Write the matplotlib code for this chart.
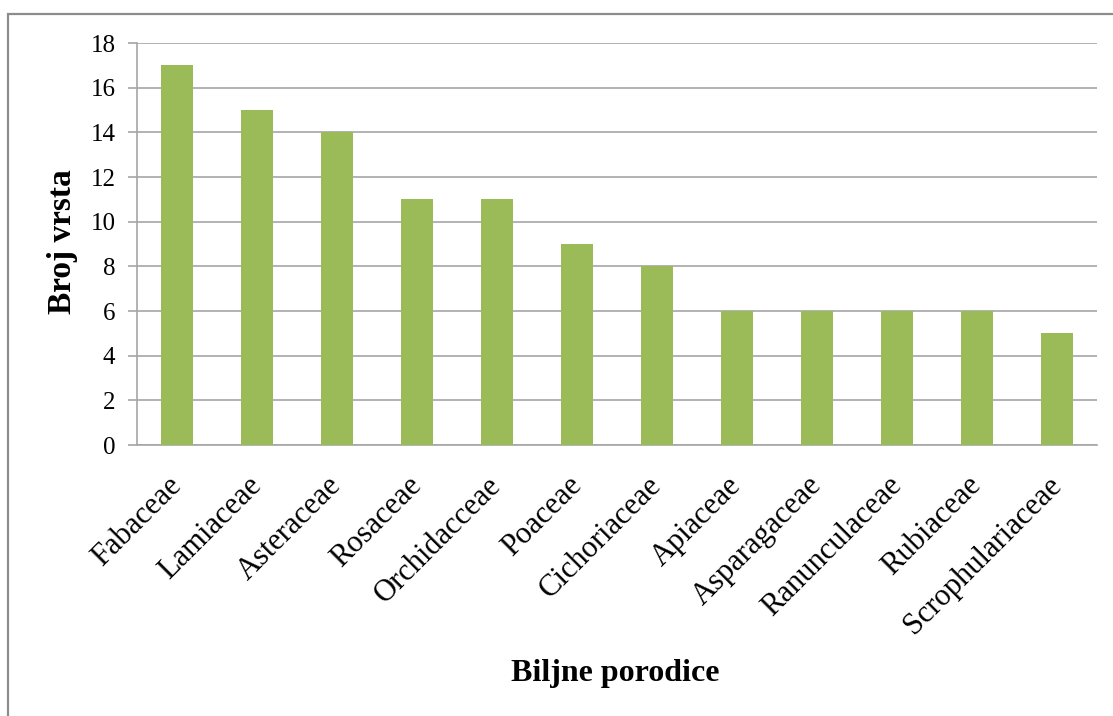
import matplotlib
matplotlib.use("Agg")
import matplotlib.pyplot as plt
from matplotlib.patches import Rectangle

plt.rcParams["font.family"] = ["Liberation Serif", "DejaVu Serif"]

families = [
    "Fabaceae", "Lamiaceae", "Asteraceae", "Rosaceae", "Orchidacceae",
    "Poaceae", "Cichoriaceae", "Apiaceae", "Asparagaceae", "Ranunculaceae",
    "Rubiaceae", "Scrophulariaceae",
]
species_count = [17, 15, 14, 11, 11, 9, 8, 6, 6, 6, 6, 5]

BAR_COLOR = "#9BBB59"
GRID_COLOR = "#A6A6A6"

W, H = 1113, 716
fig = plt.figure(figsize=(W / 100, H / 100), dpi=100)

# outer chart frame (Excel chart area border)
fig.patches.append(
    Rectangle((8 / W, -0.05), 1.1, 1.05 - 14 / H, transform=fig.transFigure,
              fill=False, edgecolor="#8C8C8C", linewidth=1.6, zorder=0)
)

ax = fig.add_axes([137 / W, 1 - 445 / H, (1097 - 137) / W, (445 - 43) / H])
x = list(range(len(families)))
ax.bar(x, species_count, width=0.4, color=BAR_COLOR, zorder=3)

ax.set_xlim(-0.5, len(families) - 0.5)
ax.set_ylim(0, 18)
ax.set_yticks(range(0, 19, 2))
ax.yaxis.grid(True, color=GRID_COLOR, linewidth=1.2, zorder=0)
ax.set_axisbelow(True)

for side in ("top", "right"):
    ax.spines[side].set_visible(False)
for side in ("left", "bottom"):
    ax.spines[side].set_color(GRID_COLOR)
    ax.spines[side].set_linewidth(1.2)

ax.tick_params(axis="y", length=6.5, color=GRID_COLOR, width=1.2, labelsize=18, pad=9)
ax.tick_params(axis="x", length=0, labelsize=22, pad=26)
ax.set_xticks(x)
ax.set_xticklabels(families, rotation=45, ha="right", va="center",
                   rotation_mode="anchor")

fig.text(63 / W, 1 - 242 / H, "Broj vrsta", rotation=90, ha="center", va="center",
         fontsize=24, fontweight="bold")
fig.text(615 / W, 1 - 673 / H, "Biljne porodice", ha="center", va="center",
         fontsize=23, fontweight="bold")

fig.savefig("out.png", dpi=100)
